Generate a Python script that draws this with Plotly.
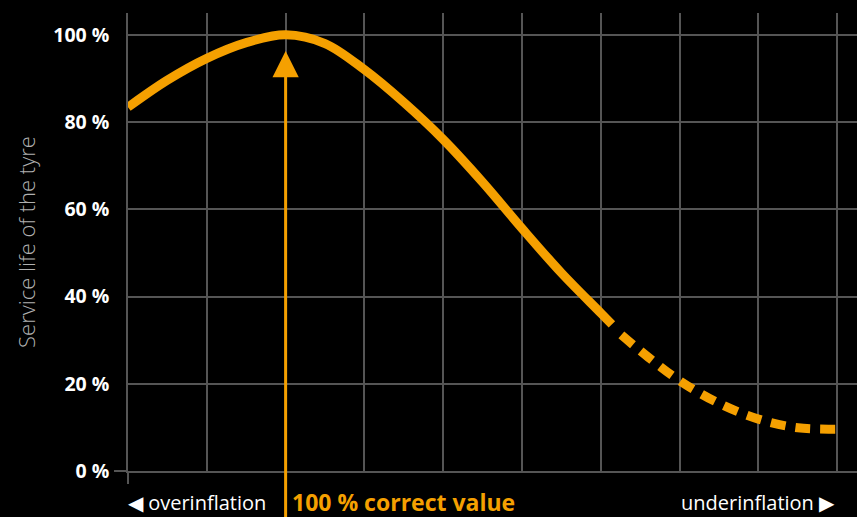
import plotly.graph_objects as go

# Data
solid_x = [0, 0.5, 1, 1.5, 2, 2.5, 3, 3.5, 4, 4.5, 5, 5.5, 6, 6.14]
solid_y = [83.4, 89.6, 94.6, 98.2, 100, 98.0, 92.0, 84.5, 76.0, 66.2, 55.6, 45.4, 36.2, 33.6]
dash_x = [6.26, 6.6, 7, 7.5, 8, 8.5, 9]
dash_y = [31.2, 26.1, 20.7, 15.5, 11.9, 9.9, 9.6]
y_ticks = [0, 20, 40, 60, 80, 100]
y_ticktext = ["0 %", "20 %", "40 %", "60 %", "80 %", "100 %"]
x_grid = list(range(0, 10))
correct_x = 2
arrow_tip = 96.3

ORANGE = "#F5A000"
GRID = "#555555"
FONT = "Open Sans"

fig = go.Figure()
fig.add_trace(go.Scatter(x=solid_x, y=solid_y, mode="lines",
                         line=dict(color=ORANGE, width=9, shape="spline", smoothing=1),
                         hoverinfo="skip", showlegend=False))
fig.add_trace(go.Scatter(x=dash_x, y=dash_y, mode="lines",
                         line=dict(color=ORANGE, width=9, shape="spline", smoothing=1,
                                   dash="15px,10px"),
                         hoverinfo="skip", showlegend=False))
# dummy trace for overlay axes (single ticks at origin)
fig.add_trace(go.Scatter(x=[0], y=[0], mode="markers", marker=dict(opacity=0),
                         xaxis="x2", yaxis="y2", hoverinfo="skip", showlegend=False))

fig.update_layout(
    width=857, height=517,
    margin=dict(l=128, r=0, t=13, b=46),
    paper_bgcolor="black", plot_bgcolor="black",
    font=dict(family=FONT, color="white"),
    xaxis=dict(range=[0, 9.25], tickvals=x_grid, showticklabels=False,
               showgrid=True, gridcolor=GRID, gridwidth=1.5, zeroline=False,
               showline=True, linecolor=GRID, linewidth=1.5, ticks=""),
    yaxis=dict(range=[0, 105], tickvals=y_ticks, ticktext=y_ticktext,
               showgrid=True, gridcolor=GRID, gridwidth=1.5, zeroline=False,
               showline=True, linecolor=GRID, linewidth=1.5,
               ticks="outside", ticklen=13, tickcolor="rgba(0,0,0,0)",
               tickfont=dict(family=FONT, size=19.5, color="white", weight="bold"),
               title=dict(text="Service life of the tyre", standoff=12,
                          font=dict(family=FONT, size=22, color="#b0b0b0", weight=300))),
    xaxis2=dict(overlaying="x", range=[0, 9.25], tickvals=[0], showticklabels=False,
                ticks="outside", ticklen=12, tickcolor=GRID, tickwidth=1.5,
                showgrid=False, zeroline=False, showline=False, side="bottom"),
    yaxis2=dict(overlaying="y", range=[0, 105], tickvals=[0], showticklabels=False,
                ticks="outside", ticklen=13, tickcolor=GRID, tickwidth=1.5,
                showgrid=False, zeroline=False, showline=False, side="left"),
)

# arrow marking the correct value
fig.add_annotation(x=correct_x, y=arrow_tip, ax=correct_x, ay=-14,
                   xref="x", yref="y", axref="x", ayref="y",
                   text="", showarrow=True, arrowhead=2, arrowsize=1.75,
                   arrowwidth=3, arrowcolor=ORANGE, standoff=0)

fig.add_annotation(x=correct_x, y=-0.068, xref="x", yref="paper",
                   text="100 % correct value", showarrow=False,
                   xanchor="left", yanchor="middle", xshift=4,
                   font=dict(family=FONT, size=23, color=ORANGE, weight="bold"))
fig.add_annotation(x=0, y=-0.068, xref="paper", yref="paper",
                   text="◀ overinflation", showarrow=False,
                   xanchor="left", yanchor="middle", xshift=-2,
                   font=dict(family=FONT, size=20, color="white"))
fig.add_annotation(x=1, y=-0.068, xref="paper", yref="paper",
                   text="underinflation ▶", showarrow=False,
                   xanchor="right", yanchor="middle", xshift=-20,
                   font=dict(family=FONT, size=20, color="white"))

fig.write_html("out.html", config={"displayModeBar": False},
               post_script="document.body.style.margin='0';")
